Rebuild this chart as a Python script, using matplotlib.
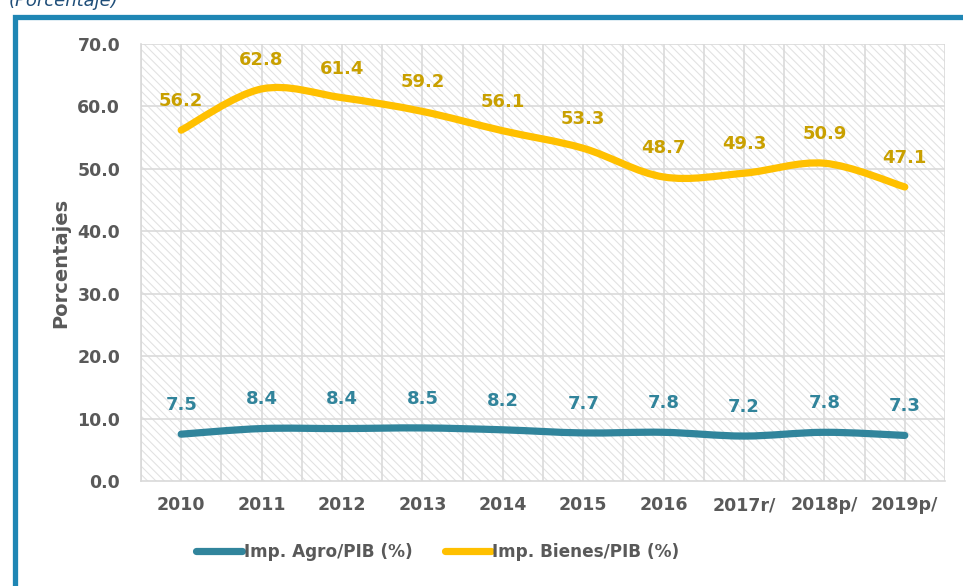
import numpy as np
import matplotlib
matplotlib.use("Agg")
import matplotlib.pyplot as plt
from matplotlib.path import Path
from matplotlib.patches import PathPatch, Rectangle
from matplotlib.lines import Line2D

# data
years = ['2010', '2011', '2012', '2013', '2014', '2015', '2016', '2017r/', '2018p/', '2019p/']
agro = [7.5, 8.4, 8.4, 8.5, 8.2, 7.7, 7.8, 7.2, 7.8, 7.3]
bienes = [56.2, 62.8, 61.4, 59.2, 56.1, 53.3, 48.7, 49.3, 50.9, 47.1]

agro_col = '#31859c'
bienes_col = '#ffc000'
agro_lab = '#31849b'
bienes_lab = '#c9a000'
txt_col = '#595959'

plt.rcParams['hatch.linewidth'] = 0.8
plt.rcParams['hatch.color'] = '#e2e2e2'


# smooth path through the points (bezier, like excel smoothed lines)
def smooth_path(xs, ys):
    pts = np.column_stack([xs, ys]).astype(float)
    n = len(pts)
    verts = [pts[0]]
    codes = [Path.MOVETO]
    for i in range(n - 1):
        p0 = pts[i - 1] if i > 0 else pts[i]
        p1 = pts[i]
        p2 = pts[i + 1]
        p3 = pts[i + 2] if i + 2 < n else pts[i + 1]
        c1 = p1 + (p2 - p0) / 6
        c2 = p2 - (p3 - p1) / 6
        verts += [c1, c2, p2]
        codes += [Path.CURVE4] * 3
    return Path(verts, codes)


fig = plt.figure(figsize=(9.63, 5.86), dpi=100)

# outer blue frame (cut off at right and bottom)
fig.patches.append(Rectangle((14.5 / 963, -0.05), 1.2, (586 - 16.5) / 586 + 0.05,
                             transform=fig.transFigure, fill=False,
                             edgecolor='#1f86b4', linewidth=3.8, zorder=0))
fig.text(9 / 963, 1 + 8 / 586, '(Porcentaje)', color='#1f4e79', style='italic',
         fontsize=13, ha='left', va='top')

ax = fig.add_axes([141 / 963, 105 / 586, 804 / 963, 437 / 586])
x = np.arange(len(years))

ax.add_patch(Rectangle((0, 0), 1, 1, transform=ax.transAxes, facecolor='white',
                       hatch='\\\\\\\\', edgecolor='#e2e2e2', linewidth=0, zorder=0))

for yv in range(10, 80, 10):
    ax.axhline(yv, color='#dadada', linewidth=1.2, zorder=1)
for xv in np.arange(-0.5, 10, 0.5):
    ax.axvline(xv, color='#dadada', linewidth=1.2, zorder=1)

ax.add_patch(PathPatch(smooth_path(x, agro), facecolor='none', edgecolor=agro_col,
                       linewidth=5.2, capstyle='round', zorder=3))
ax.add_patch(PathPatch(smooth_path(x, bienes), facecolor='none', edgecolor=bienes_col,
                       linewidth=5.2, capstyle='round', zorder=3))

for i in range(len(years)):
    ax.annotate(f'{agro[i]:.1f}', (x[i], agro[i]), xytext=(0, 21), textcoords='offset points',
                ha='center', va='center', color=agro_lab, fontsize=13, fontweight='bold')
    ax.annotate(f'{bienes[i]:.1f}', (x[i], bienes[i]), xytext=(0, 21), textcoords='offset points',
                ha='center', va='center', color=bienes_lab, fontsize=13, fontweight='bold')

ax.set_xlim(-0.5, 9.5)
ax.set_ylim(0, 70)
ax.set_xticks(x)
ax.set_xticklabels(years)
ax.set_yticks(np.arange(0, 80, 10))
ax.set_yticklabels([f'{v:.1f}' for v in range(0, 80, 10)])
ax.tick_params(length=0, labelsize=12.5, colors=txt_col)
ax.tick_params(axis='x', pad=11)
ax.tick_params(axis='y', pad=15)
for lab in ax.get_xticklabels() + ax.get_yticklabels():
    lab.set_fontweight('bold')
for s in ['top', 'right']:
    ax.spines[s].set_visible(False)
for s in ['left', 'bottom']:
    ax.spines[s].set_color('#d9d9d9')
    ax.spines[s].set_linewidth(1.2)
ax.set_ylabel('Porcentajes', fontsize=14, fontweight='bold', color=txt_col, labelpad=5)

handles = [Line2D([], [], color=agro_col, linewidth=5.2, solid_capstyle='round'),
           Line2D([], [], color=bienes_col, linewidth=5.2, solid_capstyle='round')]
fig.legend(handles, ['Imp. Agro/PIB (%)', 'Imp. Bienes/PIB (%)'], loc='center',
           bbox_to_anchor=(438 / 963, 1 - 552 / 586), ncol=2, frameon=False,
           handlelength=2.7, handletextpad=0.1, columnspacing=1.9,
           prop={'size': 12.2, 'weight': 'bold'}, labelcolor=txt_col)

fig.savefig('out.png', dpi=100)
